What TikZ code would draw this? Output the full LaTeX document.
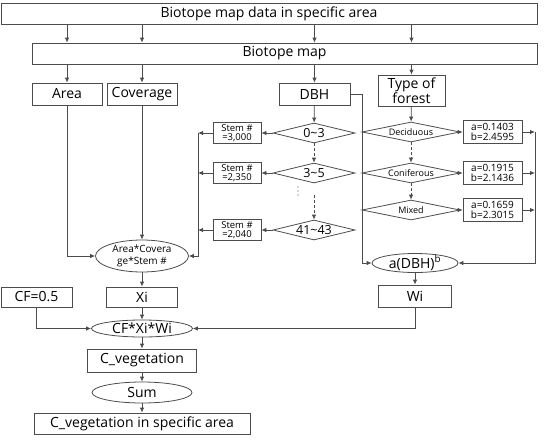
\documentclass[tikz,border=0pt]{standalone}
\usepackage{fontspec}
\setmainfont{Open Sans}
\usetikzlibrary{shapes.geometric,arrows.meta}
\begin{document}
\begin{tikzpicture}[x=1pt,y=-1pt,line width=0.8pt,
    box/.style={draw=black!70, rectangle, inner sep=0pt, align=center, font=\fontsize{14}{13}\selectfont},
    small/.style={box, font=\fontsize{9.5}{9.5}\selectfont},
    dia/.style={draw=black!70, diamond, aspect=4, inner sep=0pt, text height=9pt, text depth=0pt, font=\fontsize{12.5}{13}\selectfont},
    oval/.style={draw=black!70, ellipse, inner sep=0pt, align=center, text height=10pt, text depth=0pt, font=\fontsize{14}{14}\selectfont},
    arr/.style={draw=black!70, -{Latex[length=5pt,width=4.5pt]}},
    dotline/.style={dash pattern=on 3pt off 2pt}]
\useasboundingbox (0,0) rectangle (544,440);
\node[box, minimum width=536, minimum height=21] (data) at (269,13.5) {Biotope map data in specific area};
\node[box, minimum width=505, minimum height=21] (bmap) at (284.5,53.5) {Biotope map};
\node[box, minimum width=70, minimum height=22] (area) at (67,94) {Area};
\node[box, minimum width=70, minimum height=22] (cover) at (142,94) {Coverage};
\node[box, minimum width=71, minimum height=22] (dbh) at (314.5,94) {DBH};
\node[box, minimum width=67, minimum height=31] (type) at (411.5,90.5) {Type of\\forest};
\foreach \c in {area,cover,dbh,type} {
    \draw[arr] (data.south -| \c) -- (bmap.north -| \c);
    \draw[arr] (bmap.south -| \c) -- (\c);
}
\coordinate (sl) at (198,133);
\coordinate (dl) at (362,94);
\coordinate (rl) at (535,132);
\foreach \r/\y/\s [count=\n] in {
        0\textasciitilde 3/133/3{,}000,
        3\textasciitilde 5/173/2{,}350,
        41\textasciitilde 43/230/2{,}040
  } {
    \node[dia, minimum width=82, minimum height=20] (d\n) at (314,\y) {\r};
    \node[small, minimum width=48, minimum height=21] (s\n) at (237,\y) {Stem \#\\=\s};
    \draw[arr] (d\n) -- (s\n);
    \draw[arr] (s\n.west) -- (s\n.west -| sl);
  }
\foreach \t/\y/\a/\b [count=\n] in {
        Deciduous/132/0.1403/2.4595,
        Coniferous/173/0.1915/2.1436,
        Mixed/210/0.1659/2.3015
  } {
    \node[dia, minimum width=98, minimum height=20, text height=6.5pt, font=\fontsize{9}{10}\selectfont] (f\n) at (411,\y) {\t};
    \node[small, minimum width=59, minimum height=23, font=\fontsize{10}{10}\selectfont] (ab\n) at (492.5,\y) {a=\a\\b=\b};
    \draw[arr] (f\n) -- (ab\n);
    \draw[arr] (ab\n.east) -- (ab\n.east -| rl);
  }
\foreach \k in {0,1,2} \fill[black!70] (298,187+4*\k) circle (0.6pt);
\node[oval, minimum width=86, minimum height=19] (abf) at (415,263) {a(DBH)\textsuperscript{b}};
\node[box, minimum width=73, minimum height=22] (wi) at (415,296) {Wi};
\node[oval, minimum width=93, minimum height=32, text height=, text depth=, font=\fontsize{10}{11.5}\selectfont] (ace) at (142,256) {Area*Covera\\ge*Stem \#};
\node[box, minimum width=71, minimum height=20] (xi) at (142,297) {Xi};
\node[box, minimum width=71, minimum height=20] (cf) at (36.5,297) {CF=0.5};
\node[oval, minimum width=101, minimum height=17] (cfx) at (142,328.5) {CF*Xi*Wi};
\node[box, minimum width=109, minimum height=23] (cveg) at (142,360.5) {C\_vegetation};
\node[oval, minimum width=100, minimum height=21] (sum) at (142,392.5) {Sum};
\node[box, minimum width=216, minimum height=21] (total) at (142,423.5) {C\_vegetation in specific area};
\draw[arr] (dbh) -- (d1);
\draw[arr, dotline] (d1) -- (d2);
\draw[arr, dotline] ([yshift=-12pt]d2.south) -- (d3);
\draw[arr] (type) -- (f1);
\draw[arr, dotline] (f1) -- (f2);
\draw[arr, dotline] (f2) -- (f3);
\draw[arr] (sl) |- (ace.east);
\draw[arr] (dbh.east) -- (dl) |- (abf.west);
\draw[arr] (rl) |- (abf.east);
\draw[arr] (area.south) |- (ace.west);
\draw[arr] (cover) -- (ace);
\draw[arr] (ace) -- (xi);
\draw[arr] (xi) -- (cfx);
\draw[arr] (abf) -- (wi);
\draw[arr] (cf.south) |- (cfx.west);
\draw[arr] (wi.south) |- (cfx.east);
\draw[arr] (cfx) -- (cveg);
\draw[arr] (cveg) -- (sum);
\draw[arr] (sum) -- (total);
\end{tikzpicture}
\end{document}
